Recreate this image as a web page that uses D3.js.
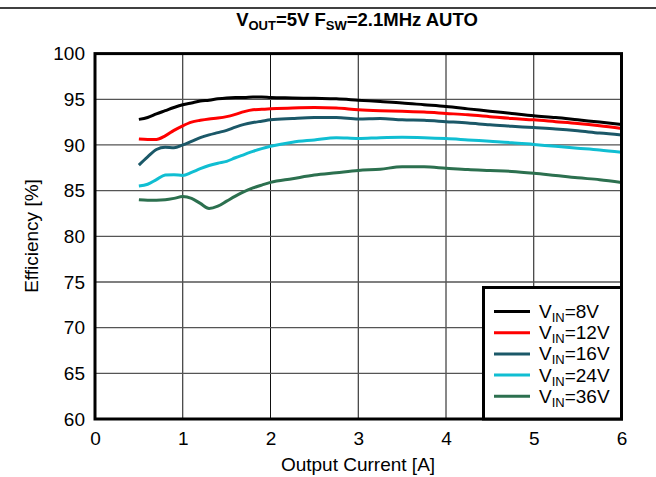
<!DOCTYPE html>
<html><head><meta charset="utf-8">
<script src="https://cdn.jsdelivr.net/npm/d3@7"></script>
<style>body{margin:0;background:#fff}svg{display:block;font-family:"Liberation Sans",Arial,sans-serif}</style>
</head><body><svg id="c" width="656" height="477"></svg>
<script>
const current = [0.5,0.6,0.7,0.8,0.9,1.0,1.1,1.2,1.3,1.4,1.5,1.6,1.7,1.8,1.9,2.0,2.25,2.5,2.75,3.0,3.25,3.5,3.75,4.0,4.25,4.5,4.75,5.0,5.25,5.5,5.75,6.0];
const vin8  = [92.8,93.0,93.4,93.75,94.1,94.4,94.6,94.8,94.9,95.05,95.15,95.2,95.2,95.25,95.25,95.2,95.15,95.1,95.05,94.9,94.75,94.6,94.4,94.2,93.95,93.7,93.45,93.2,93.0,92.75,92.5,92.25];
const vin12 = [90.65,90.6,90.6,91.0,91.6,92.1,92.5,92.7,92.85,92.95,93.1,93.35,93.65,93.85,93.9,93.95,94.05,94.1,94.05,93.85,93.75,93.7,93.6,93.45,93.3,93.1,92.9,92.75,92.55,92.35,92.1,91.8];
const vin16 = [87.8,88.7,89.5,89.75,89.7,90.0,90.4,90.8,91.1,91.35,91.6,91.95,92.25,92.45,92.6,92.75,92.9,93.0,93.0,92.85,92.9,92.75,92.7,92.55,92.4,92.2,92.05,91.9,91.75,91.55,91.3,91.1];
const vin24 = [85.5,85.7,86.2,86.7,86.75,86.65,87.0,87.4,87.75,88.0,88.2,88.6,88.95,89.3,89.6,89.85,90.3,90.55,90.8,90.7,90.8,90.85,90.8,90.7,90.55,90.4,90.25,90.05,89.85,89.65,89.45,89.2];
const vin36 = [84.0,83.95,83.95,84.0,84.15,84.35,84.15,83.6,83.05,83.3,83.85,84.4,84.9,85.3,85.6,85.9,86.3,86.7,86.95,87.2,87.35,87.6,87.6,87.45,87.3,87.2,87.1,86.9,86.65,86.4,86.2,85.9];
const seriesNames = ["8V","12V","16V","24V","36V"];
const seriesColors = ["#000000","#ff0000","#1b5868","#10bed2","#2c704f"];
const xTicks = [0,1,2,3,4,5,6];
const yTicks = [60,65,70,75,80,85,90,95,100];

const series = [vin8,vin12,vin16,vin24,vin36];
const svg = d3.select("#c");
const L=95, R=621.5, T=53.6, B=419;
const x = d3.scaleLinear().domain([0,6]).range([L,R]);
const y = d3.scaleLinear().domain([60,100]).range([B,T]);

// top rule
svg.append("line").attr("x1",0).attr("x2",656).attr("y1",8).attr("y2",8).attr("stroke","#000").attr("stroke-width",1.5);

// title
const title = svg.append("text").attr("x",357).attr("y",26).attr("text-anchor","middle")
  .attr("font-weight","bold").attr("font-size",18.5);
title.append("tspan").text("V");
title.append("tspan").text("OUT").attr("font-size",13).attr("dy",4);
title.append("tspan").text("=5V F").attr("dy",-4);
title.append("tspan").text("SW").attr("font-size",13).attr("dy",4);
title.append("tspan").text("=2.1MHz AUTO").attr("dy",-4);

// grid
const g = svg.append("g");
g.selectAll(".gx").data(xTicks.slice(1,-1)).enter().append("line")
  .attr("x1",d=>x(d)).attr("x2",d=>x(d)).attr("y1",T).attr("y2",B).attr("stroke","#111").attr("stroke-width",1);
g.selectAll(".gy").data(yTicks.slice(1,-1)).enter().append("line")
  .attr("x1",L).attr("x2",R).attr("y1",d=>y(d)).attr("y2",d=>y(d)).attr("stroke","#555").attr("stroke-width",1.3);

// axes labels
const xa = d3.axisBottom(x).tickValues(xTicks).tickSize(0).tickPadding(13).tickFormat(d3.format("d"));
const xg = svg.append("g").attr("transform",`translate(0,${B})`).call(xa);
xg.select(".domain").remove();
xg.selectAll("text").attr("font-size",19).attr("font-family","Liberation Sans, Arial").attr("fill","#000");
const ya = d3.axisLeft(y).tickValues(yTicks).tickSize(0).tickPadding(10).tickFormat(d3.format("d"));
const yg = svg.append("g").attr("transform",`translate(${L},0)`).call(ya);
yg.select(".domain").remove();
yg.selectAll("text").attr("font-size",19).attr("font-family","Liberation Sans, Arial").attr("fill","#000");

svg.append("text").attr("x",358).attr("y",471).attr("text-anchor","middle").attr("font-size",19).text("Output Current [A]");
svg.append("text").attr("transform","translate(38,236) rotate(-90)").attr("text-anchor","middle").attr("font-size",19).text("Efficiency [%]");

// lines
const line = d3.line().x((d,i)=>x(current[i])).y(d=>y(d)).curve(d3.curveMonotoneX);
series.forEach((s,k)=>{
  svg.append("path").datum(s).attr("d",line).attr("fill","none").attr("stroke",seriesColors[k]).attr("stroke-width",3).attr("stroke-linejoin","round");
});

// frame
svg.append("rect").attr("x",L).attr("y",T).attr("width",R-L).attr("height",B-T).attr("fill","none").attr("stroke","#000").attr("stroke-width",3);

// legend
const lg = svg.append("g");
lg.append("rect").attr("x",483.5).attr("y",287.5).attr("width",R-483.5).attr("height",B-287.5).attr("fill","#fff").attr("stroke","#000").attr("stroke-width",3);
seriesNames.forEach((n,k)=>{
  const yy = 311.5 + k*21.2;
  lg.append("line").attr("x1",494).attr("x2",530).attr("y1",yy).attr("y2",yy).attr("stroke",seriesColors[k]).attr("stroke-width",3);
  const t = lg.append("text").attr("x",539).attr("y",yy+6.5).attr("font-size",19);
  t.append("tspan").text("V");
  t.append("tspan").text("IN").attr("font-size",13).attr("dy",4);
  t.append("tspan").text("="+n).attr("dy",-4);
});
</script></body></html>
